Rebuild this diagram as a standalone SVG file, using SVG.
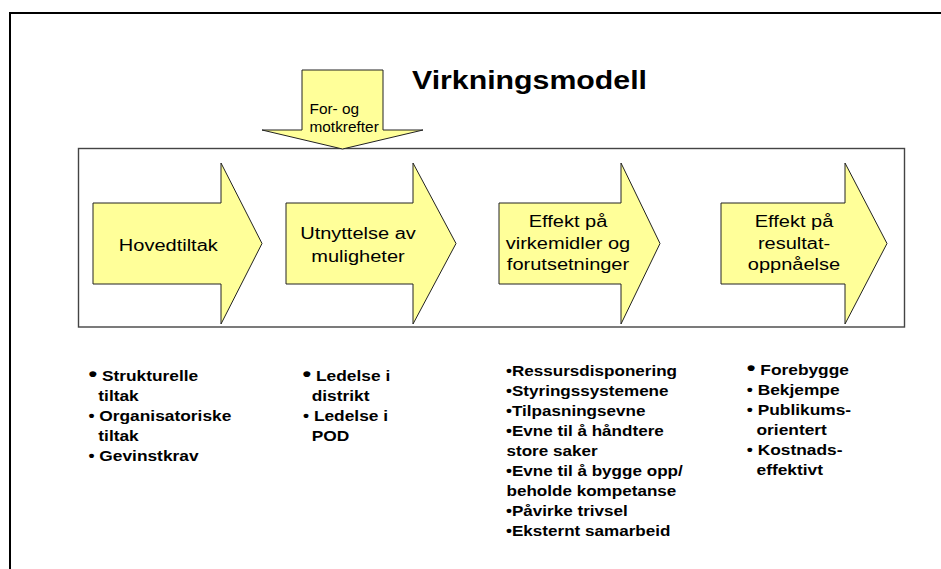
<svg xmlns="http://www.w3.org/2000/svg" width="941" height="569" viewBox="0 0 941 569">
<style>
.frame{fill:none;stroke:#000;stroke-width:2}
.box{fill:#fff;stroke:#444;stroke-width:1.4}
.arr{fill:#FFFF99;stroke:#222;stroke-width:1}
text{font-family:"Liberation Sans",Arial,sans-serif;fill:#000}
.title{font-size:26px;font-weight:bold}
.lbl{font-size:16px;text-anchor:middle}
.small{font-size:14px}
.b{font-size:14px;font-weight:bold}
.big{font-size:20px}
</style>
<rect width="941" height="569" fill="#fff"/>
<rect class="frame" x="10" y="13" width="1000" height="1000"/>
<g id="title"><text class="title" transform="translate(412,88.5) scale(1.165,1)">Virkningsmodell</text></g>
<g id="model-box"><rect class="box" x="78.5" y="148.5" width="826" height="178.5"/></g>
<g id="forces">
<polygon class="arr" points="302,70 383,70 383,130 423,130 342.5,149 262,130 302,130"/>
<text class="small" transform="translate(309.5,114) scale(1.1,1)">For- og</text>
<text class="small" transform="translate(309.5,131.5) scale(1.1,1)">motkrefter</text>
</g>
<g id="hovedtiltak">
<polygon class="arr" points="93,203 221,203 221,163 262,243.5 221,324 221,284 93,284"/>
<text class="lbl" transform="translate(168.3,251) scale(1.25,1)">Hovedtiltak</text>
</g>
<g id="utnyttelse">
<polygon class="arr" points="286,203 413,203 413,163 456,243.5 413,324 413,284 286,284"/>
<text class="lbl" transform="translate(358,239) scale(1.25,1)">Utnyttelse av</text>
<text class="lbl" transform="translate(358,261.5) scale(1.25,1)">muligheter</text>
</g>
<g id="effekt-virkemidler">
<polygon class="arr" points="499,203 621,203 621,163 660,243.5 621,324 621,284 499,284"/>
<text class="lbl" transform="translate(568,227) scale(1.25,1)">Effekt på</text>
<text class="lbl" transform="translate(568,248.5) scale(1.25,1)">virkemidler og</text>
<text class="lbl" transform="translate(568,270) scale(1.25,1)">forutsetninger</text>
</g>
<g id="effekt-resultat">
<polygon class="arr" points="721,203 845,203 845,163 887,243.5 845,324 845,284 721,284"/>
<text class="lbl" transform="translate(794,227) scale(1.25,1)">Effekt på</text>
<text class="lbl" transform="translate(794,248.5) scale(1.25,1)">resultat-</text>
<text class="lbl" transform="translate(794,270) scale(1.25,1)">oppnåelse</text>
</g>
<g id="connectors"/>
<g id="list-hovedtiltak">
<text class="b" transform="translate(88.4,381) scale(1.24,1)"><tspan class="big">•</tspan> Strukturelle</text>
<text class="b" transform="translate(98.3,401) scale(1.24,1)">tiltak</text>
<text class="b" transform="translate(88.4,421) scale(1.24,1)">• Organisatoriske</text>
<text class="b" transform="translate(98.3,441) scale(1.24,1)">tiltak</text>
<text class="b" transform="translate(88.4,461) scale(1.24,1)">• Gevinstkrav</text>
</g>
<g id="list-utnyttelse">
<text class="b" transform="translate(302.5,381) scale(1.24,1)"><tspan class="big">•</tspan> Ledelse i</text>
<text class="b" transform="translate(311.7,401) scale(1.24,1)">distrikt</text>
<text class="b" transform="translate(303,421) scale(1.24,1)">• Ledelse i</text>
<text class="b" transform="translate(311.7,441) scale(1.24,1)">POD</text>
</g>
<g id="list-virkemidler">
<text class="b" transform="translate(506,376) scale(1.22,1)">•Ressursdisponering</text>
<text class="b" transform="translate(506,396) scale(1.22,1)">•Styringssystemene</text>
<text class="b" transform="translate(506,416) scale(1.22,1)">•Tilpasningsevne</text>
<text class="b" transform="translate(506,436) scale(1.22,1)">•Evne til å håndtere</text>
<text class="b" transform="translate(506.5,456) scale(1.22,1)">store saker</text>
<text class="b" transform="translate(506,476) scale(1.22,1)">•Evne til å bygge opp/</text>
<text class="b" transform="translate(506.5,496) scale(1.22,1)">beholde kompetanse</text>
<text class="b" transform="translate(506,516) scale(1.22,1)">•Påvirke trivsel</text>
<text class="b" transform="translate(506,536) scale(1.22,1)">•Eksternt samarbeid</text>
</g>
<g id="list-resultat">
<text class="b" transform="translate(746.8,375) scale(1.24,1)"><tspan class="big">•</tspan> Forebygge</text>
<text class="b" transform="translate(746.8,395) scale(1.24,1)">• Bekjempe</text>
<text class="b" transform="translate(746.8,415) scale(1.24,1)">• Publikums-</text>
<text class="b" transform="translate(756.5,435) scale(1.24,1)">orientert</text>
<text class="b" transform="translate(746.8,455) scale(1.24,1)">• Kostnads-</text>
<text class="b" transform="translate(756.5,475) scale(1.24,1)">effektivt</text>
</g>
</svg>
